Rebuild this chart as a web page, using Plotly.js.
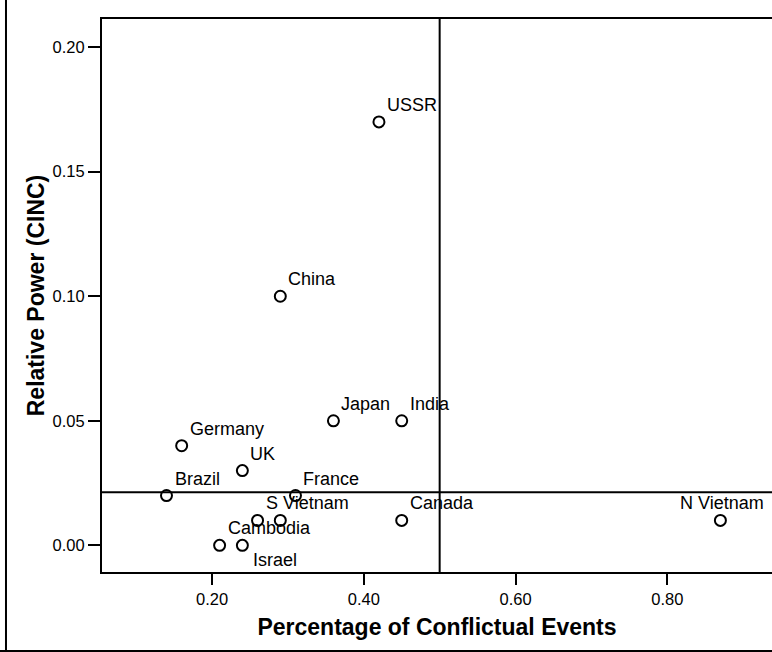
<!DOCTYPE html>
<html>
<head>
<meta charset="utf-8">
<script src="https://cdn.plot.ly/plotly-3.0.1.min.js"></script>
<style>
  html, body { margin: 0; padding: 0; background: #ffffff; }
  #chart { width: 772px; height: 652px; }
</style>
</head>
<body>
<div id="chart"></div>
<script>
// Data
const countries = ["USSR", "China", "Japan", "India", "Germany", "UK", "Brazil", "France",
                   "S Vietnam", "", "Cambodia", "Israel", "Canada", "N Vietnam"];
const conflictShare = [0.42, 0.29, 0.36, 0.45, 0.16, 0.24, 0.14, 0.31,
                       0.26, 0.29, 0.21, 0.24, 0.45, 0.87];
const relativePower = [0.17, 0.10, 0.05, 0.05, 0.04, 0.03, 0.02, 0.02,
                       0.01, 0.01, 0.00, 0.00, 0.01, 0.01];
const xRefLine = 0.50;
const yRefLine = 0.0213;
const xTicks = [0.20, 0.40, 0.60, 0.80];
const yTicks = [0.00, 0.05, 0.10, 0.15, 0.20];

// label placement (style only)
const labelPlacement = ["tr", "tr", "tr", "tr", "tr", "tr", "tr", "tr",
                        "tr", "tr", "tr", "br", "tr", "tc"];

const FONT = "Arial, 'Liberation Sans', Helvetica, sans-serif";

const trace = {
  type: "scatter",
  mode: "markers",
  x: conflictShare,
  y: relativePower,
  marker: { symbol: "circle-open", size: 11, color: "#000000", line: { width: 2, color: "#000000" } },
  hoverinfo: "skip",
  cliponaxis: false,
  showlegend: false
};

const annotations = countries.map((name, i) => {
  const p = labelPlacement[i];
  const a = {
    x: conflictShare[i], y: relativePower[i], xref: "x", yref: "y",
    text: name, showarrow: false,
    font: { family: FONT, size: 18, color: "#000000" },
    yanchor: "middle"
  };
  if (p === "tr") { a.xanchor = "left"; a.xshift = 6; a.yshift = 17; }
  else if (p === "br") { a.xanchor = "left"; a.xshift = 9; a.yshift = -15; }
  else { a.xanchor = "center"; a.xshift = 2; a.yshift = 17; }
  return a;
}).filter(a => a.text !== "");

const layout = {
  width: 772, height: 652,
  margin: { l: 102, r: 0, t: 19, b: 80, pad: 0 },
  paper_bgcolor: "#ffffff",
  plot_bgcolor: "#ffffff",
  font: { family: FONT, color: "#000000" },
  xaxis: {
    range: [0.055, 0.938],
    tickvals: xTicks,
    ticktext: xTicks.map(v => v.toFixed(2)),
    ticks: "outside", ticklen: 11, tickwidth: 2, tickcolor: "#000000",
    showline: true, linewidth: 2, linecolor: "#000000", mirror: true,
    showgrid: false, zeroline: false,
    tickfont: { family: FONT, size: 16.5, color: "#000000" },
    title: { text: "Percentage of Conflictual Events", font: { family: FONT, size: 23, color: "#000000", weight: "bold" }, standoff: 12 }
  },
  yaxis: {
    range: [-0.0107, 0.2113],
    tickvals: yTicks,
    ticktext: yTicks.map(v => v.toFixed(2)),
    ticks: "outside", ticklen: 12, tickwidth: 2, tickcolor: "#000000",
    showline: true, linewidth: 2, linecolor: "#000000", mirror: false,
    showgrid: false, zeroline: false,
    tickfont: { family: FONT, size: 16.5, color: "#000000" },
    title: { text: "Relative Power (CINC)", font: { family: FONT, size: 23, color: "#000000", weight: "bold" }, standoff: 2 }
  },
  shapes: [
    { type: "line", xref: "x", yref: "paper", x0: xRefLine, x1: xRefLine, y0: 0, y1: 1, line: { color: "#000000", width: 2 } },
    { type: "line", xref: "paper", yref: "y", x0: 0, x1: 1, y0: yRefLine, y1: yRefLine, line: { color: "#000000", width: 2 } },
    // outer frame (left and bottom visible)
    { type: "line", xref: "paper", yref: "paper", x0: -0.1433, x1: -0.1433, y0: -0.2, y1: 1.1, line: { color: "#000000", width: 2 } },
    { type: "line", xref: "paper", yref: "paper", x0: -0.2, x1: 1.1, y0: -0.1429, y1: -0.1429, line: { color: "#000000", width: 2 } }
  ],
  annotations: annotations
};

Plotly.newPlot("chart", [trace], layout, { staticPlot: true, displayModeBar: false });
</script>
</body>
</html>
